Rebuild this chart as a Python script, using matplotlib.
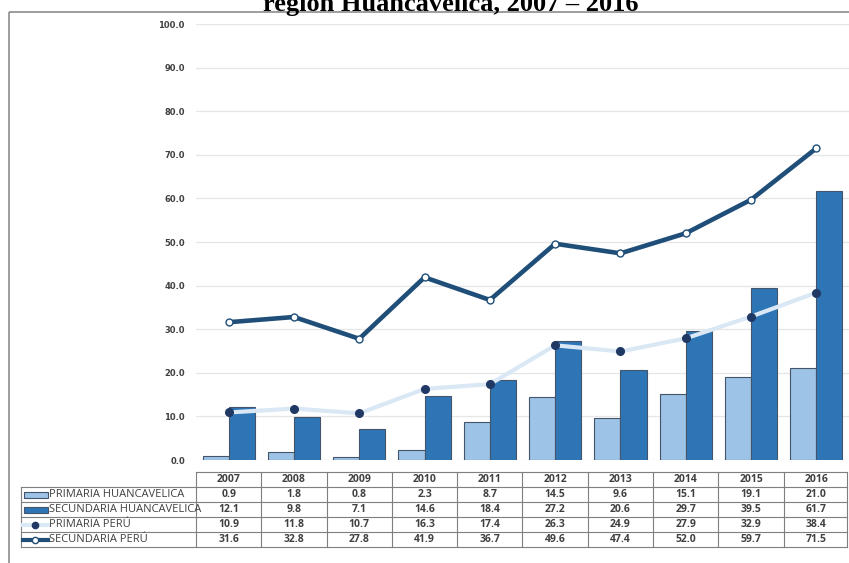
import matplotlib.pyplot as plt
import matplotlib.patches as mpatches
import numpy as np

# data
years = ["2007", "2008", "2009", "2010", "2011", "2012", "2013", "2014", "2015", "2016"]
primaria_hvca = [0.9, 1.8, 0.8, 2.3, 8.7, 14.5, 9.6, 15.1, 19.1, 21.0]
secundaria_hvca = [12.1, 9.8, 7.1, 14.6, 18.4, 27.2, 20.6, 29.7, 39.5, 61.7]
primaria_peru = [10.9, 11.8, 10.7, 16.3, 17.4, 26.3, 24.9, 27.9, 32.9, 38.4]
secundaria_peru = [31.6, 32.8, 27.8, 41.9, 36.7, 49.6, 47.4, 52.0, 59.7, 71.5]
row_labels = ["PRIMARIA HUANCAVELICA", "SECUNDARIA HUANCAVELICA", "PRIMARIA PERÚ", "SECUNDARIA PERÚ"]
title = "región Huancavelica, 2007 – 2016"

LIGHT = "#9DC3E6"
DARK = "#2E75B6"
EDGE = "#44546A"
NAVY = "#1F4E79"
PALE = "#DAE8F5"
DOT = "#1F3864"
TXT = "#404040"

W, H = 849, 563
fig = plt.figure(figsize=(W / 100, H / 100), dpi=100)

# main chart area in pixels
ax_l, ax_r, ax_t, ax_b = 196, 849, 24, 460
ax = fig.add_axes([ax_l / W, 1 - ax_b / H, (ax_r - ax_l) / W, (ax_b - ax_t) / H])

x = np.arange(len(years))
ax.bar(x - 0.2, primaria_hvca, width=0.4, color=LIGHT, edgecolor=EDGE, linewidth=0.8, zorder=2)
ax.bar(x + 0.2, secundaria_hvca, width=0.4, color=DARK, edgecolor=EDGE, linewidth=0.8, zorder=2)
ax.plot(x, primaria_peru, color=PALE, linewidth=3, zorder=3)
ax.plot(x, primaria_peru, linestyle="none", marker="o", markersize=5.5,
        markerfacecolor=DOT, markeredgecolor=DOT, zorder=4)
ax.plot(x, secundaria_peru, color=NAVY, linewidth=3.3, marker="o", markersize=5,
        markerfacecolor="white", markeredgecolor=NAVY, markeredgewidth=1, zorder=4)

ax.set_xlim(-0.5, len(years) - 0.5)
ax.set_ylim(0, 100)
ax.set_yticks(np.arange(0, 101, 10))
ax.set_yticklabels([f"{v:.1f}" for v in range(0, 101, 10)], fontsize=6, fontweight="bold", color=TXT)
ax.set_xticks([])
ax.tick_params(axis="y", length=0, pad=8)
ax.yaxis.grid(True, color="#E6E6E6", linewidth=0.9, zorder=0)
ax.set_axisbelow(True)
for s in ax.spines.values():
    s.set_visible(False)

# overlay axes in pixel coordinates for the frame, title and data table
ov = fig.add_axes([0, 0, 1, 1], zorder=-1)
ov.set_xlim(0, W)
ov.set_ylim(H, 0)
ov.axis("off")
ov.add_patch(mpatches.Rectangle((9, 12), W, H, fill=False, edgecolor="#8C8C8C", linewidth=1.2))
# title is cropped at the top edge in the original
ov.text(451, 11, title, ha="center", va="baseline", fontsize=19, fontweight="bold",
        family="Liberation Serif", color="black", clip_on=False)

tab = fig.add_axes([0, 0, 1, 1])
tab.set_xlim(0, W)
tab.set_ylim(H, 0)
tab.axis("off")

col_w = (ax_r - ax_l) / len(years)
tab_left, lab_right = 21, ax_l
row_y = [472, 487, 502, 517, 532, 547]
tab_right = ax_l + col_w * len(years) - 2
line_kw = dict(color="#7F7F7F", linewidth=0.8)

# horizontal lines
tab.plot([lab_right, tab_right], [row_y[0], row_y[0]], **line_kw)
for y in row_y[1:]:
    tab.plot([tab_left, tab_right], [y, y], **line_kw)
# vertical lines
tab.plot([tab_left, tab_left], [row_y[1], row_y[-1]], **line_kw)
for i in range(len(years) + 1):
    xx = min(lab_right + i * col_w, tab_right)
    tab.plot([xx, xx], [row_y[0], row_y[-1]], **line_kw)

for i, yr in enumerate(years):
    cx = lab_right + (i + 0.5) * col_w
    tab.text(cx, (row_y[0] + row_y[1]) / 2, yr, ha="center", va="center", fontsize=7.5,
             fontweight="bold", color=TXT, family="Open Sans")

series = [primaria_hvca, secundaria_hvca, primaria_peru, secundaria_peru]
for r, vals in enumerate(series):
    cy = (row_y[r + 1] + row_y[r + 2]) / 2
    for i, v in enumerate(vals):
        cx = lab_right + (i + 0.5) * col_w
        tab.text(cx, cy, f"{v:.1f}", ha="center", va="center", fontsize=7.5,
                 fontweight="bold", color=TXT, family="Open Sans")
    tab.text(49, cy, row_labels[r], ha="left", va="center", fontsize=8,
             color=TXT, family="Open Sans")

# legend keys inside the label column
cy = [(row_y[k] + row_y[k + 1]) / 2 for k in range(1, 5)]
tab.add_patch(mpatches.Rectangle((24, cy[0] - 3), 24, 6, facecolor=LIGHT, edgecolor=EDGE, linewidth=0.8))
tab.add_patch(mpatches.Rectangle((24, cy[1] - 3), 24, 6, facecolor=DARK, edgecolor=EDGE, linewidth=0.8))
tab.plot([23, 48], [cy[2], cy[2]], color=PALE, linewidth=3)
tab.plot([35.5], [cy[2]], marker="o", markersize=4.5, color=DOT)
tab.plot([23, 48], [cy[3], cy[3]], color=NAVY, linewidth=3)
tab.plot([35.5], [cy[3]], marker="o", markersize=4.5, markerfacecolor="white", markeredgecolor=NAVY)

fig.savefig("out.png", dpi=100)
